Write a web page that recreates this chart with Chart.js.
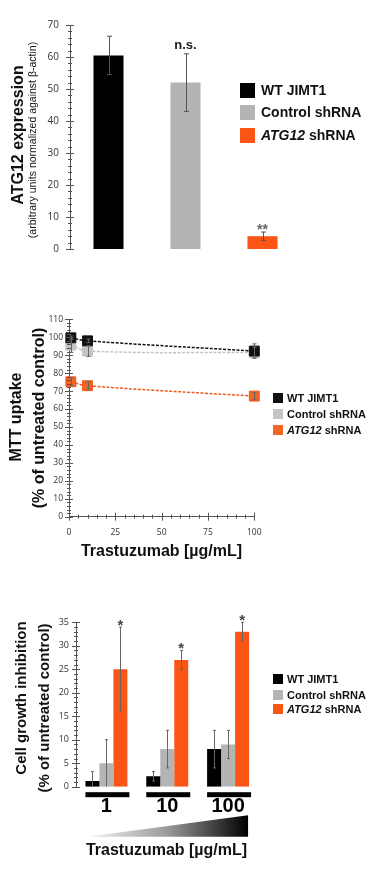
<!DOCTYPE html>
<html>
<head>
<meta charset="utf-8">
<script src="https://cdn.jsdelivr.net/npm/chart.js@4.4.0/dist/chart.umd.min.js"></script>
<style>
  body { margin: 0; background: #fff; width: 382px; height: 874px; position: relative; overflow: hidden; }
  .panel { position: absolute; left: 0; width: 382px; }
  .legend { position: absolute; font-family: "Liberation Sans", Arial, sans-serif; font-weight: bold; color: #111; }
  .legend .row { position: absolute; white-space: nowrap; }
  .legend .sw { position: absolute; left: 0; }
</style>
</head>
<body>
<canvas id="expr" class="panel" width="382" height="270" style="top:0"></canvas>
<canvas id="mtt" class="panel" width="382" height="275" style="top:290px"></canvas>
<canvas id="inhib" class="panel" width="382" height="304" style="top:570px"></canvas>
<script>
// ---- data ----
const seriesNames = ['WT JIMT1', 'Control shRNA', 'ATG12 shRNA'];
const seriesColors = ['#000000', '#b4b4b4', '#fa5514'];

// ATG12 expression (panel A)
const expression = [60.5, 52, 4];
const expressionErr = [6, 9, 1.3];

// MTT uptake (panel B)
const doses = [1, 10, 100];
const mttWT = [99.7, 98, 92.3];
const mttControl = [95.6, 92.3, 91.4];
const mttATG12 = [75.2, 73, 67.2];
const mttWTErr = [1, 1, 4];
const mttControlErr = [4, 3, 3];
const mttATG12Err = [2, 2, 2];

// Cell growth inhibition (panel C)
const doseLabels = ['1', '10', '100'];
const inhibWT = [1.2, 2.2, 8];
const inhibControl = [5, 8, 9];
const inhibATG12 = [25, 27, 33];
const inhibWTErr = [2, 1, 4];
const inhibControlErr = [5, 4, 3];
const inhibATG12Err = [9, 2, 2];

const tickFont = '"Open Sans", "DejaVu Sans", sans-serif';
const boldFont = '"Liberation Sans", Arial, sans-serif';

// error bars from dataset.errors
const errorBars = {
  id: 'errorBars',
  afterDatasetsDraw(chart, args, opts) {
    const ctx = chart.ctx;
    const y = chart.scales.y;
    ctx.save();
    ctx.strokeStyle = opts.color || '#555';
    ctx.lineWidth = 1;
    chart.data.datasets.forEach((ds, di) => {
      if (!ds.errors) return;
      const meta = chart.getDatasetMeta(di);
      meta.data.forEach((el, i) => {
        const v = ds.data[i].y !== undefined ? ds.data[i].y : ds.data[i];
        const e = ds.errors[i];
        const x = Math.round(el.x) + 0.5;
        const top = y.getPixelForValue(v + e);
        const bot = y.getPixelForValue(Math.max(y.min, v - e));
        const cap = opts.cap || 2;
        ctx.beginPath();
        ctx.moveTo(x, top); ctx.lineTo(x, bot);
        ctx.moveTo(x - cap, top); ctx.lineTo(x + cap, top);
        if (v - e > y.min) { ctx.moveTo(x - cap, bot); ctx.lineTo(x + cap, bot); }
        ctx.stroke();
      });
    });
    ctx.restore();
  }
};

// major / minor axis ticks crossing the axis line
const axisTicks = {
  id: 'axisTicks',
  afterDraw(chart, args, opts) {
    const ctx = chart.ctx, a = chart.chartArea;
    ctx.save();
    ctx.strokeStyle = '#555';
    ctx.lineWidth = 1;
    ['x', 'y'].forEach(k => {
      const o = opts[k];
      if (!o) return;
      const s = chart.scales[k];
      for (let v = s.min; v <= s.max + 1e-9; v += o.minor) {
        const major = Math.abs(v / o.major - Math.round(v / o.major)) < 1e-6;
        const len = major ? 4 : 2;
        const p = Math.round(s.getPixelForValue(v)) + 0.5;
        ctx.beginPath();
        if (k === 'y') { ctx.moveTo(a.left - len, p); ctx.lineTo(a.left + len, p); }
        else { ctx.moveTo(p, a.bottom - len); ctx.lineTo(p, a.bottom + len); }
        ctx.stroke();
      }
    });
    ctx.restore();
  }
};

// free texts: axis titles
const texts = {
  id: 'texts',
  afterDraw(chart, args, opts) {
    const ctx = chart.ctx;
    (opts.items || []).forEach(t => {
      ctx.save();
      ctx.translate(t.x, t.y);
      if (t.rot) ctx.rotate(t.rot);
      ctx.font = t.font;
      ctx.fillStyle = t.color || '#111';
      ctx.textAlign = 'center';
      ctx.textBaseline = 'middle';
      ctx.fillText(t.text, 0, 0);
      ctx.restore();
    });
  }
};

// significance marks over error bars
const sigMarks = {
  id: 'sigMarks',
  afterDraw(chart, args, opts) {
    const ctx = chart.ctx, y = chart.scales.y;
    (opts.items || []).forEach(m => {
      const ds = chart.data.datasets[m.ds];
      const el = chart.getDatasetMeta(m.ds).data[m.i];
      const top = y.getPixelForValue(ds.data[m.i] + ds.errors[m.i]);
      ctx.save();
      ctx.font = m.font;
      ctx.fillStyle = m.color;
      ctx.textAlign = 'center';
      ctx.textBaseline = 'alphabetic';
      ctx.fillText(m.text, el.x, top + m.dy);
      ctx.restore();
    });
  }
};

// dose group underline bars + gradient wedge (panel C)
const doseDecor = {
  id: 'doseDecor',
  afterDraw(chart) {
    const ctx = chart.ctx, a = chart.chartArea;
    const first = chart.getDatasetMeta(0).data, last = chart.getDatasetMeta(2).data;
    ctx.save();
    ctx.fillStyle = '#000';
    first.forEach((el, i) => {
      const x1 = el.x - el.width / 2, x2 = last[i].x + last[i].width / 2 + 2;
      ctx.fillRect(x1, a.bottom + 5.5, x2 - x1, 5);
    });
    const lx = first[0].x - first[0].width / 2 + 2;
    const rx = last[last.length - 1].x + last[last.length - 1].width / 2 - 1;
    const g = ctx.createLinearGradient(lx, 0, rx, 0);
    g.addColorStop(0, '#f4f4f4');
    g.addColorStop(0.5, '#9a9a9a');
    g.addColorStop(1, '#000');
    ctx.fillStyle = g;
    ctx.beginPath();
    ctx.moveTo(lx, a.bottom + 50);
    ctx.lineTo(rx, a.bottom + 28.5);
    ctx.lineTo(rx, a.bottom + 50);
    ctx.closePath();
    ctx.fill();
    ctx.restore();
  }
};

function fixSize(w, h) {
  return scale => { if (w != null) scale.width = w; if (h != null) scale.height = h; };
}

// ---- panel A: ATG12 expression ----
new Chart(document.getElementById('expr'), {
  type: 'bar',
  data: {
    labels: seriesNames,
    datasets: [{ data: expression, errors: expressionErr, backgroundColor: seriesColors,
      categoryPercentage: 1, barPercentage: 0.39 }]
  },
  options: {
    responsive: false, animation: false,
    layout: { padding: { top: 25, right: 81, left: 0, bottom: 0 } },
    scales: {
      x: { afterFit: fixSize(null, 21), grid: { display: false }, border: { display: false }, ticks: { display: false } },
      y: {
        min: 0, max: 70, afterFit: fixSize(70, null),
        ticks: { stepSize: 10, padding: 7, color: '#333', font: { family: tickFont, size: 10 } },
        grid: { display: false, drawTicks: true, tickLength: 4 },
        border: { display: true, color: '#555', width: 1 }
      }
    },
    plugins: {
      legend: { display: false }, tooltip: { enabled: false },
      errorBars: { color: '#555', cap: 2.5 },
      axisTicks: { y: { minor: 2, major: 10 } },
      sigMarks: { items: [
        { ds: 0, i: 1, text: 'n.s.', dy: -5, font: 'bold 13px ' + boldFont, color: '#222' },
        { ds: 0, i: 2, text: '**', dy: 2, font: 'bold 14px ' + boldFont, color: '#666' }
      ] },
      texts: { items: [
        { text: 'ATG12 expression', x: 19, y: 135, rot: -Math.PI / 2, font: 'bold 16px ' + boldFont },
        { text: '(arbitrary units normalized against \u03b2-actin)', x: 33, y: 140, rot: -Math.PI / 2, font: '10.5px ' + boldFont }
      ] }
    }
  },
  plugins: [errorBars, axisTicks, sigMarks, texts]
});

// ---- panel B: MTT uptake ----
function lineSet(values, errs, color, fill) {
  return {
    data: values.map((v, i) => ({ x: doses[i], y: v })), errors: errs, clip: false,
    borderColor: color, borderWidth: 1.5, borderDash: [3, 1.5], tension: 0.4,
    pointStyle: 'rect', pointRadius: 7, pointBackgroundColor: fill, pointBorderColor: color, pointBorderWidth: 1
  };
}
new Chart(document.getElementById('mtt'), {
  type: 'line',
  data: {
    datasets: [
      lineSet(mttWT, mttWTErr, '#111', '#111'),
      lineSet(mttControl, mttControlErr, '#c4c4c4', '#c4c4c4'),
      lineSet(mttATG12, mttATG12Err, '#f05a1e', '#f26522')
    ]
  },
  options: {
    responsive: false, animation: false,
    layout: { padding: { top: 29.3, right: 127.7, left: 0, bottom: 0 } },
    scales: {
      x: {
        type: 'linear', min: 0, max: 100, afterFit: fixSize(null, 48.3),
        ticks: { stepSize: 25, padding: 8, color: '#333', font: { family: tickFont, size: 8.5 } },
        grid: { display: false, drawTicks: true, tickLength: 3 },
        border: { display: true, color: '#555', width: 1 }
      },
      y: {
        min: 0, max: 110, afterFit: fixSize(69, null),
        ticks: { stepSize: 10, padding: 3, color: '#333', font: { family: tickFont, size: 8.5 } },
        grid: { display: false, drawTicks: true, tickLength: 3 },
        border: { display: true, color: '#555', width: 1 }
      }
    },
    plugins: {
      legend: { display: false }, tooltip: { enabled: false },
      errorBars: { color: '#666', cap: 2 },
      axisTicks: { y: { minor: 2, major: 10 }, x: { minor: 5, major: 25 } },
      texts: { items: [
        { text: 'MTT uptake', x: 17, y: 127, rot: -Math.PI / 2, font: 'bold 16px ' + boldFont },
        { text: '(% of untreated control)', x: 40, y: 128, rot: -Math.PI / 2, font: 'bold 16px ' + boldFont },
        { text: 'Trastuzumab [\u00b5g/mL]', x: 161.5, y: 262, font: 'bold 16px ' + boldFont }
      ] }
    }
  },
  plugins: [errorBars, axisTicks, texts]
});

// ---- panel C: cell growth inhibition ----
const inhibSets = [inhibWT, inhibControl, inhibATG12];
const inhibErrs = [inhibWTErr, inhibControlErr, inhibATG12Err];
new Chart(document.getElementById('inhib'), {
  type: 'bar',
  data: {
    labels: doseLabels,
    datasets: inhibSets.map((d, k) => ({
      label: seriesNames[k], data: d, errors: inhibErrs[k], backgroundColor: seriesColors[k],
      categoryPercentage: 0.69, barPercentage: 1
    }))
  },
  options: {
    responsive: false, animation: false,
    layout: { padding: { top: 52.3, right: 123.5, left: 0, bottom: 0 } },
    scales: {
      x: {
        afterFit: fixSize(null, 87.3), grid: { display: false, drawTicks: false }, border: { display: false },
        ticks: { padding: 8, color: '#000', font: { family: boldFont, size: 20, weight: 'bold' } }
      },
      y: {
        min: 0, max: 35, afterFit: fixSize(76, null),
        ticks: { stepSize: 5, padding: 4, color: '#333', font: { family: tickFont, size: 9 } },
        grid: { display: false, drawTicks: true, tickLength: 3 },
        border: { display: true, color: '#555', width: 1 }
      }
    },
    plugins: {
      legend: { display: false }, tooltip: { enabled: false },
      errorBars: { color: '#666', cap: 1.5 },
      axisTicks: { y: { minor: 1, major: 5 } },
      sigMarks: { items: doseLabels.map((l, i) => (
        { ds: 2, i: i, text: '*', dy: 3, font: 'bold 15px ' + boldFont, color: '#444' })) },
      texts: { items: [
        { text: 'Cell growth inhibition', x: 22, y: 128, rot: -Math.PI / 2, font: 'bold 15px ' + boldFont },
        { text: '(% of untreated control)', x: 45, y: 138, rot: -Math.PI / 2, font: 'bold 15px ' + boldFont },
        { text: 'Trastuzumab [\u00b5g/mL]', x: 166.5, y: 281, font: 'bold 16px ' + boldFont }
      ] }
    }
  },
  plugins: [errorBars, axisTicks, sigMarks, doseDecor, texts]
});

// ---- HTML legends (italic gene name) ----
function makeLegend(left, rows, box, textX, fontSize, colors) {
  const lg = document.createElement('div');
  lg.className = 'legend';
  lg.style.left = left + 'px';
  lg.style.top = '0px';
  lg.style.fontSize = fontSize + 'px';
  seriesNames.forEach((name, k) => {
    const row = document.createElement('div');
    row.className = 'row';
    row.style.top = (rows[k] - box / 2) + 'px';
    row.style.height = box + 'px';
    row.style.lineHeight = box + 'px';
    const sw = document.createElement('span');
    sw.className = 'sw';
    sw.style.width = box + 'px'; sw.style.height = box + 'px';
    sw.style.background = colors[k];
    row.appendChild(sw);
    const tx = document.createElement('span');
    tx.style.marginLeft = textX + 'px';
    tx.innerHTML = name.startsWith('ATG12') ? '<i>ATG12</i> shRNA' : name;
    row.appendChild(tx);
    lg.appendChild(row);
  });
  document.body.appendChild(lg);
}
makeLegend(240, [90, 112.5, 135], 15, 21, 14, seriesColors);
makeLegend(273, [398, 414, 429.5], 10, 14, 11, ['#111', '#c4c4c4', '#f26522']);
makeLegend(273, [679, 694.5, 708.5], 10, 14, 11, seriesColors);
</script>
</body>
</html>
